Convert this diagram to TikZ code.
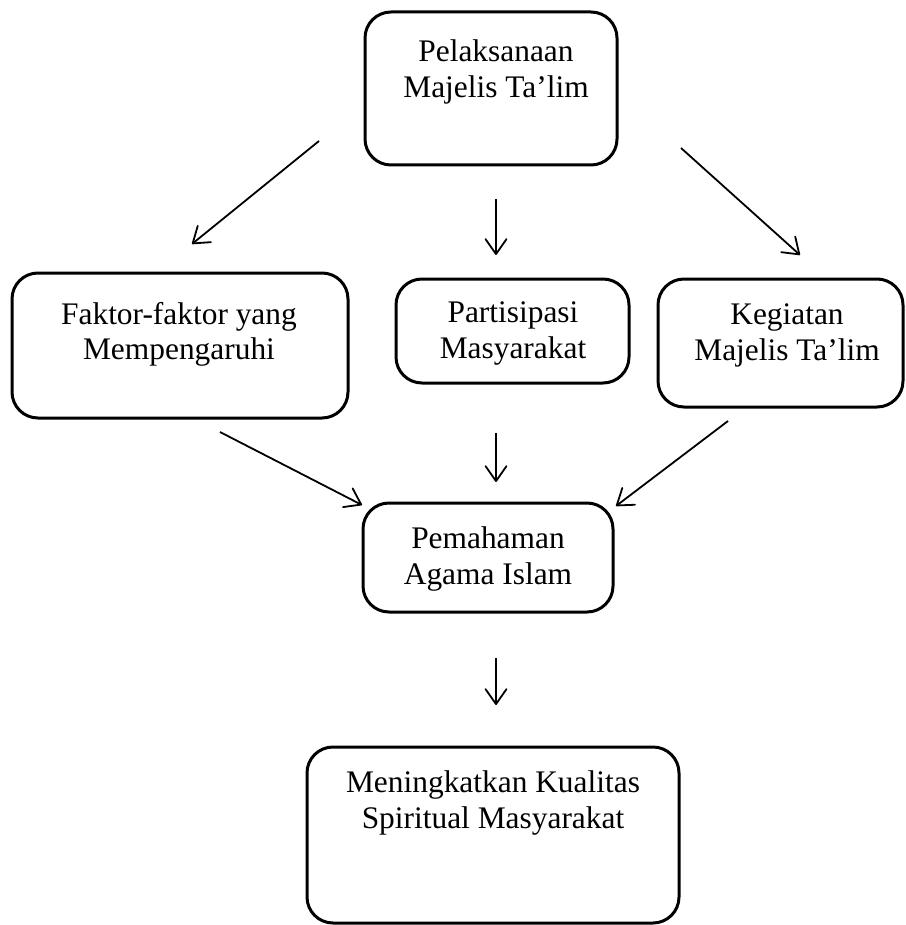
\documentclass[tikz,border=0pt]{standalone}
\usepackage{fontspec}
\setmainfont{Liberation Serif}
\usetikzlibrary{arrows.meta}
\begin{document}
\begin{tikzpicture}[x=1pt,y=-1pt,
  box/.style={draw=black,line width=3pt,rounded corners=26pt,inner sep=0pt},
  txt/.style={anchor=north,align=center,inner sep=0pt,font=\fontsize{31.4}{35.5}\selectfont},
  arr/.style={line width=1.8pt,-{Straight Barb[length=15pt,width=21pt,line width=1.8pt,round]}}]
\useasboundingbox (0,0) rectangle (905,925);
% boxes
\node[box,minimum width=252pt,minimum height=153pt] (top) at (491,88.5) {};
\node[box,minimum width=336pt,minimum height=145pt] (left) at (180,345.5) {};
\node[box,minimum width=233pt,minimum height=104pt] (mid) at (512.5,331) {};
\node[box,minimum width=245pt,minimum height=128pt] (right) at (780.5,343) {};
\node[box,minimum width=250pt,minimum height=109pt] (pem) at (488,557.5) {};
\node[box,minimum width=372pt,minimum height=176pt] (bot) at (493,835) {};
% texts
\node[txt] (toptxt) at (496,40) {Pelaksanaan\\Majelis Ta’lim};
\node[txt] (lefttxt) at (179,301.7) {Faktor-faktor yang\\Mempengaruhi};
\node[txt] (midtxt) at (513,301.7) {Partisipasi\\Masyarakat};
\node[txt] (righttxt) at (787,303.7) {Kegiatan\\Majelis Ta’lim};
\node[txt] (pemtxt) at (488,526.7) {Pemahaman\\Agama Islam};
\node[txt] (bottxt) at (493,770.7) {Meningkatkan Kualitas\\Spiritual Masyarakat};
% arrow end points
\coordinate (a1s) at (319,141); \coordinate (a1e) at (192,244);
\coordinate (a2s) at (496,199); \coordinate (a2e) at (496,255);
\coordinate (a3s) at (681,148); \coordinate (a3e) at (800,255);
\coordinate (a4s) at (220,432); \coordinate (a4e) at (362,505);
\coordinate (a5s) at (496,433); \coordinate (a5e) at (496,482);
\coordinate (a6s) at (728,421); \coordinate (a6e) at (616,506);
\coordinate (a7s) at (496,658); \coordinate (a7e) at (496,705);
\foreach \i in {1,...,7} {\draw[arr] (a\i s) -- (a\i e);}
\end{tikzpicture}
\end{document}
